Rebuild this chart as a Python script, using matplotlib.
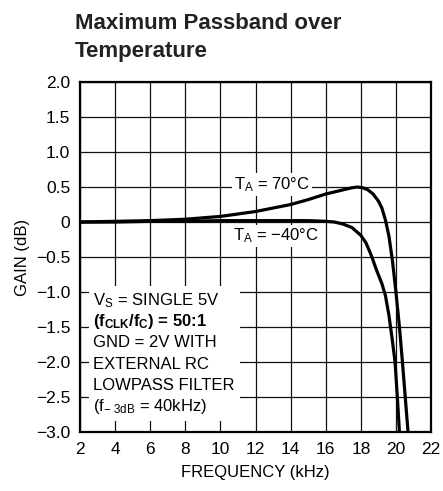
import matplotlib
matplotlib.use("Agg")
import matplotlib.pyplot as plt
from matplotlib import font_manager
from matplotlib.patches import Rectangle
from matplotlib.transforms import Bbox

# gain vs frequency
freq_70 = [2, 4, 6, 8, 10, 12, 13, 14, 15, 16, 17, 17.5, 17.8, 18.1, 18.4, 18.7,
           19.0, 19.2, 19.4, 19.6, 19.8, 20.0, 20.2, 20.37, 20.53, 20.69]
gain_70 = [0, 0.01, 0.02, 0.04, 0.08, 0.15, 0.2, 0.25, 0.32, 0.4, 0.46, 0.49, 0.5,
           0.49, 0.46, 0.4, 0.3, 0.2, 0.03, -0.2, -0.55, -1.0, -1.5, -2.0, -2.5, -3.0]

freq_m40 = [2, 4, 6, 8, 10, 12, 14, 15, 16, 16.5, 17, 17.5, 18, 18.3, 18.6, 18.9,
            19.2, 19.4, 19.6, 19.8, 19.95, 20.08, 20.2]
gain_m40 = [0, 0, 0.01, 0.01, 0.02, 0.02, 0.02, 0.02, 0.01, 0, -0.03, -0.08, -0.19,
            -0.3, -0.48, -0.69, -0.88, -1.05, -1.33, -1.7, -2.0, -2.5, -3.0]

x_ticks = list(range(2, 23, 2))
y_ticks = [2.0, 1.5, 1.0, 0.5, 0, -0.5, -1.0, -1.5, -2.0, -2.5, -3.0]
y_labels = ["2.0", "1.5", "1.0", "0.5", "0", "\u22120.5", "\u22121.0", "\u22121.5",
            "\u22122.0", "\u22122.5", "\u22123.0"]

note_lines = ["V$_\\mathregular{S}$ = SINGLE 5V",
              "(f$_\\mathregular{CLK}$/f$_\\mathregular{C}$) = 50:1",
              "GND = 2V WITH",
              "EXTERNAL RC",
              "LOWPASS FILTER",
              "(f$_{\\mathregular{\u2212\\ 3dB}}$ = 40kHz)"]
note_bold = [False, True, False, False, False, False]

installed = {f.name for f in font_manager.fontManager.ttflist}
narrow = "Liberation Sans Narrow" if "Liberation Sans Narrow" in installed else "Liberation Sans"
plt.rcParams['font.family'] = [narrow, 'DejaVu Sans']
plt.rcParams['mathtext.fontset'] = 'custom'
plt.rcParams['mathtext.rm'] = narrow
plt.rcParams['mathtext.it'] = narrow
plt.rcParams['mathtext.bf'] = narrow + ':bold'

fig = plt.figure(figsize=(4.43, 4.91), dpi=100)
ax = fig.add_axes([0.1806, 0.120, 0.7924, 0.713])

ax.plot(freq_70, gain_70, color='black', lw=2.3, zorder=3, solid_capstyle='butt')
ax.plot(freq_m40, gain_m40, color='black', lw=2.3, zorder=3, solid_capstyle='butt')

ax.set_xlim(2, 22)
ax.set_ylim(-3.0, 2.0)
ax.set_xticks(x_ticks)
ax.set_xticklabels([str(v) for v in x_ticks])
ax.set_yticks(y_ticks)
ax.set_yticklabels(y_labels)
ax.tick_params(length=0, labelsize=12.5, pad=7)
ax.grid(True, color='#111111', lw=0.9)
ax.set_axisbelow(True)
for s in ax.spines.values():
    s.set_linewidth(1.6)

ax.set_xlabel("FREQUENCY (kHz)", fontsize=12, labelpad=6)
ax.set_ylabel("GAIN (dB)", fontsize=12, labelpad=4)

fig.text(0.169, 0.874, "Maximum Passband over\nTemperature", fontsize=16,
         fontweight='bold', ha='left', va='bottom', linespacing=1.4, color='#222222')

box = dict(facecolor='white', edgecolor='none', pad=1.5)
ax.text(10.75, 0.54, "T$_\\mathregular{A}$ = 70\u00b0C", fontsize=12, ha='left',
        va='center', bbox=box, zorder=4)
ax.text(10.7, -0.2, "T$_\\mathregular{A}$ = \u221240\u00b0C", fontsize=12, ha='left',
        va='center', bbox=box, zorder=4)

# condition notes, one line at a time
y0, step = -1.12, 0.303
note_texts = []
for i, (line, bold) in enumerate(zip(note_lines, note_bold)):
    note_texts.append(ax.text(2.75, y0 - i * step, line, fontsize=12, ha='left',
                              va='center', fontweight='bold' if bold else 'normal',
                              zorder=4))

# one white block behind all the note lines, sized from the rendered text
fig.canvas.draw()
r = fig.canvas.get_renderer()
bb = Bbox.union([t.get_window_extent(r) for t in note_texts]).expanded(1.0, 1.0)
bb = Bbox.from_extents(bb.x0 - 4, bb.y0 - 5, bb.x1 + 5, bb.y1 + 5)
bb_ax = bb.transformed(ax.transAxes.inverted())
ax.add_patch(Rectangle((bb_ax.x0, bb_ax.y0), bb_ax.width, bb_ax.height,
                       transform=ax.transAxes, facecolor='white', edgecolor='none',
                       zorder=2.5))

fig.savefig("out.png", dpi=100)
